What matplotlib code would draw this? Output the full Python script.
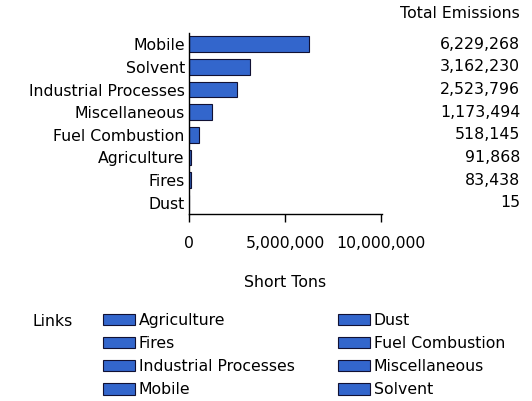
import matplotlib
matplotlib.use("Agg")
import matplotlib.pyplot as plt
from matplotlib.patches import Patch
from matplotlib.ticker import FuncFormatter

categories = ["Mobile", "Solvent", "Industrial Processes", "Miscellaneous",
              "Fuel Combustion", "Agriculture", "Fires", "Dust"]
values = [6229268, 3162230, 2523796, 1173494, 518145, 91868, 83438, 15]
value_labels = ["6,229,268", "3,162,230", "2,523,796", "1,173,494",
                "518,145", "91,868", "83,438", "15"]
legend_left = ["Agriculture", "Fires", "Industrial Processes", "Mobile"]
legend_right = ["Dust", "Fuel Combustion", "Miscellaneous", "Solvent"]
xticks = [0, 5000000, 10000000]

plt.rcParams['font.family'] = ['DejaVu Sans']
FS = 11.3
BAR = "#3366CC"

W, H = 532, 401
fig = plt.figure(figsize=(W/100, H/100), dpi=100)
ax = fig.add_axes([189/W, 1-214/H, (382-189)/W, (214-33)/H])

y = list(range(len(categories)))
ax.barh(y, values, height=0.7, color=BAR, edgecolor="#111133", linewidth=0.8)
ax.set_ylim(len(categories)-0.5, -0.5)
ax.set_xlim(0, 10.05e6)
ax.set_yticks(y)
ax.set_yticklabels(categories, fontsize=FS)
ax.tick_params(axis='y', length=0, pad=3)
ax.set_xticks(xticks)
ax.xaxis.set_major_formatter(FuncFormatter(lambda v, p: f"{int(v):,}"))
ax.tick_params(axis='x', length=6, width=1, labelsize=FS, pad=10, direction='out')
for s in ["top", "right"]:
    ax.spines[s].set_visible(False)
ax.spines["left"].set_linewidth(1)
ax.spines["bottom"].set_linewidth(1)
ax.set_xlabel("Short Tons", fontsize=FS, labelpad=17)

# value column
fig.text(520/W, 1-13/H, "Total Emissions", ha="right", va="center", fontsize=FS)
for i, lab in enumerate(value_labels):
    ax.annotate(lab, xy=(520/W, i), xycoords=("figure fraction", "data"),
                ha="right", va="center", fontsize=FS)

# legend
fig.text(33/W, 1-321/H, "Links", ha="left", va="center", fontsize=FS)
for items, x0 in ((legend_left, 103), (legend_right, 338)):
    handles = [Patch(facecolor=BAR, edgecolor="#111133", linewidth=0.8) for _ in items]
    fig.legend(handles, items, loc="upper left",
               bbox_to_anchor=(x0/W, 1-313/H), frameon=False,
               fontsize=FS, handlelength=2.05, handleheight=0.72,
               handletextpad=0.22, labelspacing=0.52,
               borderaxespad=0, borderpad=0)

fig.savefig("out.png", dpi=100)
